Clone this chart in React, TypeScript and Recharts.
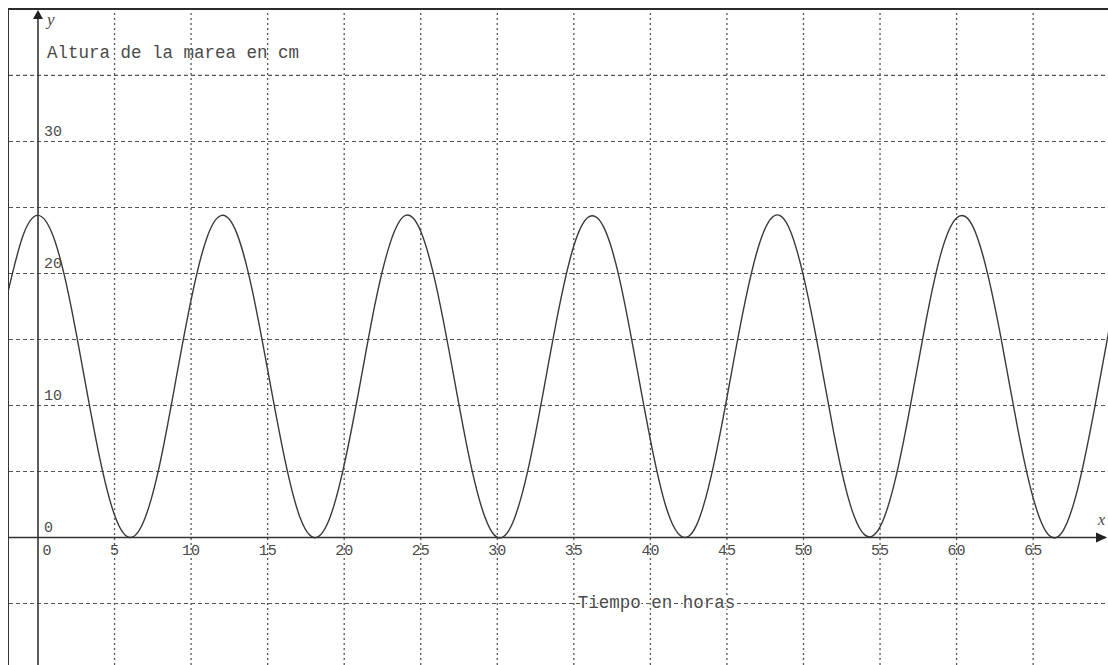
import { LineChart, Line, XAxis, YAxis, ReferenceLine, ReferenceDot } from "recharts";

// tide height (cm), one value per hour
const hours = [
  -2, -1, 0, 1, 2, 3, 4, 5, 6, 7, 8, 9, 10, 11, 12, 13, 14, 15, 16, 17, 18, 19, 20,
  21, 22, 23, 24, 25, 26, 27, 28, 29, 30, 31, 32, 33, 34, 35, 36, 37, 38, 39, 40,
  41, 42, 43, 44, 45, 46, 47, 48, 49, 50, 51, 52, 53, 54, 55, 56, 57, 58, 59, 60,
  61, 62, 63, 64, 65, 66, 67, 68, 69, 70,
];
const tideCm = [
  18.4, 22.8, 24.4, 22.8, 18.4, 12.3, 6.2, 1.7, 0.0, 1.5, 5.8, 11.9, 18.0, 22.6, 24.4, 23.0, 18.7, 12.7, 6.6, 1.9, 0.0, 1.3, 5.5,
  11.4, 17.6, 22.3, 24.4, 23.2, 19.1, 13.2, 7.0, 2.2, 0.0, 1.1, 5.1, 11.0, 17.2, 22.1, 24.3, 23.4, 19.5, 13.6, 7.4,
  2.4, 0.1, 0.9, 4.8, 10.6, 16.8, 21.8, 24.3, 23.6, 19.8, 14.1, 7.8, 2.7, 0.2, 0.8, 4.4, 10.1, 16.4, 21.6, 24.2,
  23.7, 20.1, 14.5, 8.2, 3.0, 0.2, 0.6, 4.1, 9.7, 16.0,
];
const xTicks = [0, 5, 10, 15, 20, 25, 30, 35, 40, 45, 50, 55, 60, 65];
const yTicks = [0, 10, 20, 30];
const xGrid = [5, 10, 15, 20, 25, 30, 35, 40, 45, 50, 55, 60, 65];
const yGrid = [-5, 5, 10, 15, 20, 25, 30, 35];

const data = hours.map((h, i) => ({ h, cm: tideCm[i] }));

const mono = "'Liberation Mono', 'DejaVu Sans Mono', monospace";
const ink = "#4a4a4a";

export default function App() {
  return (
    <div style={{ position: "fixed", top: 8, left: 8, width: 1099, height: 655, borderTop: "2px solid #2b2b2b", borderLeft: "1px solid #333", background: "#fff" }}>
      <LineChart width={1099} height={655} data={data} margin={{ top: 0, right: 0, bottom: 0, left: 0 }}>
        <XAxis dataKey="h" type="number" domain={[-1.894, 69.89]} allowDataOverflow hide />
        <YAxis type="number" domain={[-9.66, 39.96]} allowDataOverflow hide />

        {yGrid.map((v) => (
          <ReferenceLine key={"gy" + v} y={v} stroke="#555" strokeWidth={1.2} strokeDasharray="4 3" />
        ))}
        {xGrid.map((v) => (
          <ReferenceLine key={"gx" + v} x={v} stroke="#555" strokeWidth={1.3} strokeDasharray="2 3" />
        ))}

        <Line type="natural" dataKey="cm" stroke="#3a3a3a" strokeWidth={1.4} dot={false} isAnimationActive={false} />

        {/* horizontal axis with arrow */}
        <ReferenceLine
          y={0}
          shape={(p: any) => (
            <g>
              <line x1={p.x1} y1={p.y1} x2={p.x2 - 2} y2={p.y2} stroke="#333" strokeWidth={1.6} />
              <path d={`M${p.x2 - 1},${p.y2} l-11,-5 l0,10 z`} fill="#222" />
              <text x={p.x2 - 10} y={p.y2 - 12} fontFamily="'Liberation Serif', serif" fontStyle="italic" fontSize={16} fill={ink}>x</text>
            </g>
          )}
        />
        {/* vertical axis with arrow and title */}
        <ReferenceLine
          x={0}
          shape={(p: any) => {
            const top = Math.min(p.y1, p.y2);
            const bot = Math.max(p.y1, p.y2);
            return (
              <g>
                <line x1={p.x1} y1={bot} x2={p.x1} y2={top + 2} stroke="#333" strokeWidth={1.6} />
                <path d={`M${p.x1},${top} l-5,9 l10,0 z`} fill="#222" />
                <text x={p.x1 + 9} y={top + 15} fontFamily="'Liberation Serif', serif" fontStyle="italic" fontSize={17} fill={ink}>y</text>
                <text x={p.x1 + 9} y={top + 48} fontFamily={mono} fontSize={17.5} fill={ink}>Altura de la marea en cm</text>
              </g>
            );
          }}
        />

        {xTicks.map((t) => (
          <ReferenceDot
            key={"tx" + t}
            x={t}
            y={0}
            r={1}
            shape={(p: any) => (
              <text x={p.cx + (t === 0 ? 9 : 0)} y={p.cy + 18} textAnchor="middle" fontFamily={mono} fontSize={15} fill={ink}>
                {t}
              </text>
            )}
          />
        ))}
        {yTicks.map((t) => (
          <ReferenceDot
            key={"ty" + t}
            x={0}
            y={t}
            r={1}
            shape={(p: any) => (
              <text x={p.cx + 6} y={p.cy - 5} fontFamily={mono} fontSize={15} fill={ink}>
                {t}
              </text>
            )}
          />
        ))}

        <ReferenceDot
          x={40.4}
          y={-5}
          r={1}
          shape={(p: any) => (
            <text x={p.cx} y={p.cy + 5} textAnchor="middle" fontFamily={mono} fontSize={17.5} fill={ink}
              stroke="#fff" strokeWidth={3} paintOrder="stroke">
              Tiempo en horas
            </text>
          )}
        />
      </LineChart>
    </div>
  );
}
